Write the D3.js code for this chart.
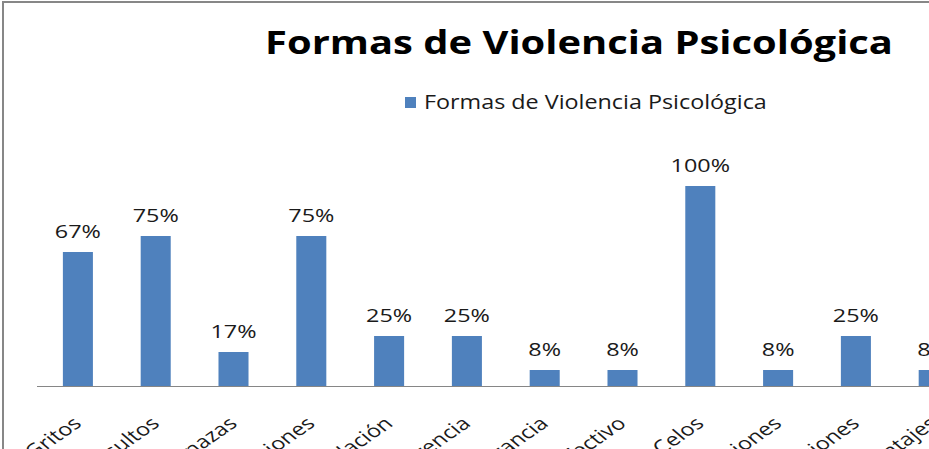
<!DOCTYPE html>
<html><head><meta charset="utf-8">
<script src="https://cdn.jsdelivr.net/npm/d3@7"></script>
<style>body{margin:0;background:#fff;} svg{display:block;}</style>
</head><body>
<script>
const categories = ["Gritos","Insultos","Amenazas","Humillaciones","Manipulación","Indiferencia","Intolerancia","Chantaje afectivo","Celos","Prohibiciones","Descalificaciones","Chantajes"];
const values = [67,75,17,75,25,25,8,8,100,8,25,8];
const seriesName = "Formas de Violencia Psicológica";
const title = "Formas de Violencia Psicológica";

const W = 929, H = 449;
const SX = 1.3; // horizontal stretch of the source picture
const svg = d3.select("body").append("svg").attr("width", W).attr("height", H);
const font = "'Open Sans', 'Noto Sans', sans-serif";

svg.append("rect").attr("x",3).attr("y",2).attr("width",1000).attr("height",600)
  .attr("fill","#fff").attr("stroke","#878787").attr("stroke-width",2);

const x = d3.scaleBand().domain(categories).range([39, 39 + 77.8*categories.length]).paddingInner(0.614).paddingOuter(0.307);
const y = d3.scaleLinear().domain([0,100]).range([386,186]);

const g = svg.append("g");
g.selectAll("rect.bar").data(values).join("rect").attr("class","bar")
  .attr("x",(d,i)=>x(categories[i])).attr("width",x.bandwidth())
  .attr("y",d=>y(d)).attr("height",d=>y(0)-y(d)).attr("fill","#4F81BD");

g.selectAll("text.lbl").data(values).join("text").attr("class","lbl")
  .attr("transform",(d,i)=>`translate(${x(categories[i])+x.bandwidth()/2},${y(d)-14}) scale(${SX},1)`)
  .attr("text-anchor","middle").attr("font-family",font).attr("font-size",18)
  .attr("fill","#1a1a1a").text(d=>d+"%");

const ax = svg.append("g").attr("transform","translate(0,386)")
  .call(d3.axisBottom(x).tickSize(0).tickPadding(0));
ax.select(".domain").attr("stroke","#868686").attr("d","M37,0.5H1000");
ax.selectAll(".tick text").attr("font-family",font).attr("font-size",18).attr("fill","#1a1a1a")
  .attr("text-anchor","end").attr("dy",0).attr("y",0)
  .attr("transform",`translate(5,39) scale(${SX},1) rotate(-42)`);

const t = svg.append("text").attr("x",0).attr("y",0).attr("text-anchor","middle")
  .attr("font-family",font).attr("font-weight","bold").attr("font-size",33).attr("fill","#000").text(title);
let tw = t.node().getComputedTextLength();
t.attr("transform",`translate(579,54) scale(${628/tw},1)`);

svg.append("rect").attr("x",405).attr("y",97).attr("width",11).attr("height",11).attr("fill","#4F81BD");
const lt = svg.append("text").attr("x",0).attr("y",0).attr("font-family",font).attr("font-size",20).attr("fill","#1a1a1a").text(seriesName);
let lw = lt.node().getComputedTextLength();
lt.attr("transform",`translate(424,109) scale(${343/lw},1)`);
</script>
</body></html>
